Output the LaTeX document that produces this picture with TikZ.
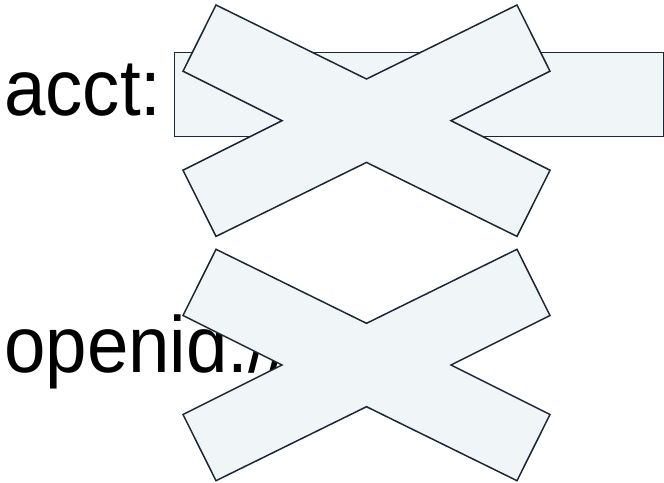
\documentclass[tikz,border=0pt]{standalone}
\usepackage{fontspec}
\setmainfont{Liberation Sans}
\definecolor{boxfill}{RGB}{240,245,248}
\definecolor{boxline}{RGB}{28,40,54}
\tikzset{
  shapebox/.style={fill=boxfill, draw=boxline, line width=1.5pt, line join=miter},
  bigtext/.style={inner sep=0pt, font=\fontsize{74.5}{74.5}\selectfont, text=black}
}
\newcommand{\tallish}[1]{\scalebox{1}[1.07]{#1}}
\begin{document}
\begin{tikzpicture}[x=1pt,y=-1pt]
\useasboundingbox (0,0) rectangle (664,482);
% row 1
\node[bigtext, anchor=base west] (acct) at (4,115) {\tallish{acct:}};
\node[shapebox, anchor=north west, minimum width=489pt, minimum height=84pt, inner sep=0pt] (field) at (173.5,51.7) {};
\newcommand{\crossmark}[2]{%
  \draw[shapebox] (#1-150.5,#2-115.7) -- (#1,#2-41.7) -- (#1+150.5,#2-115.7)
    -- (#1+183.5,#2-49.5) -- (#1+84.5,#2) -- (#1+183.5,#2+49.5)
    -- (#1+150.5,#2+115.7) -- (#1,#2+41.7) -- (#1-150.5,#2+115.7)
    -- (#1-183.5,#2+49.5) -- (#1-84.5,#2) -- (#1-183.5,#2-49.5) -- cycle;}
\crossmark{366.5}{120.7}
% row 2
\node[bigtext, anchor=base west] (openid) at (4,372) {\tallish{openid://}};
\crossmark{366.5}{365}
\end{tikzpicture}
\end{document}
